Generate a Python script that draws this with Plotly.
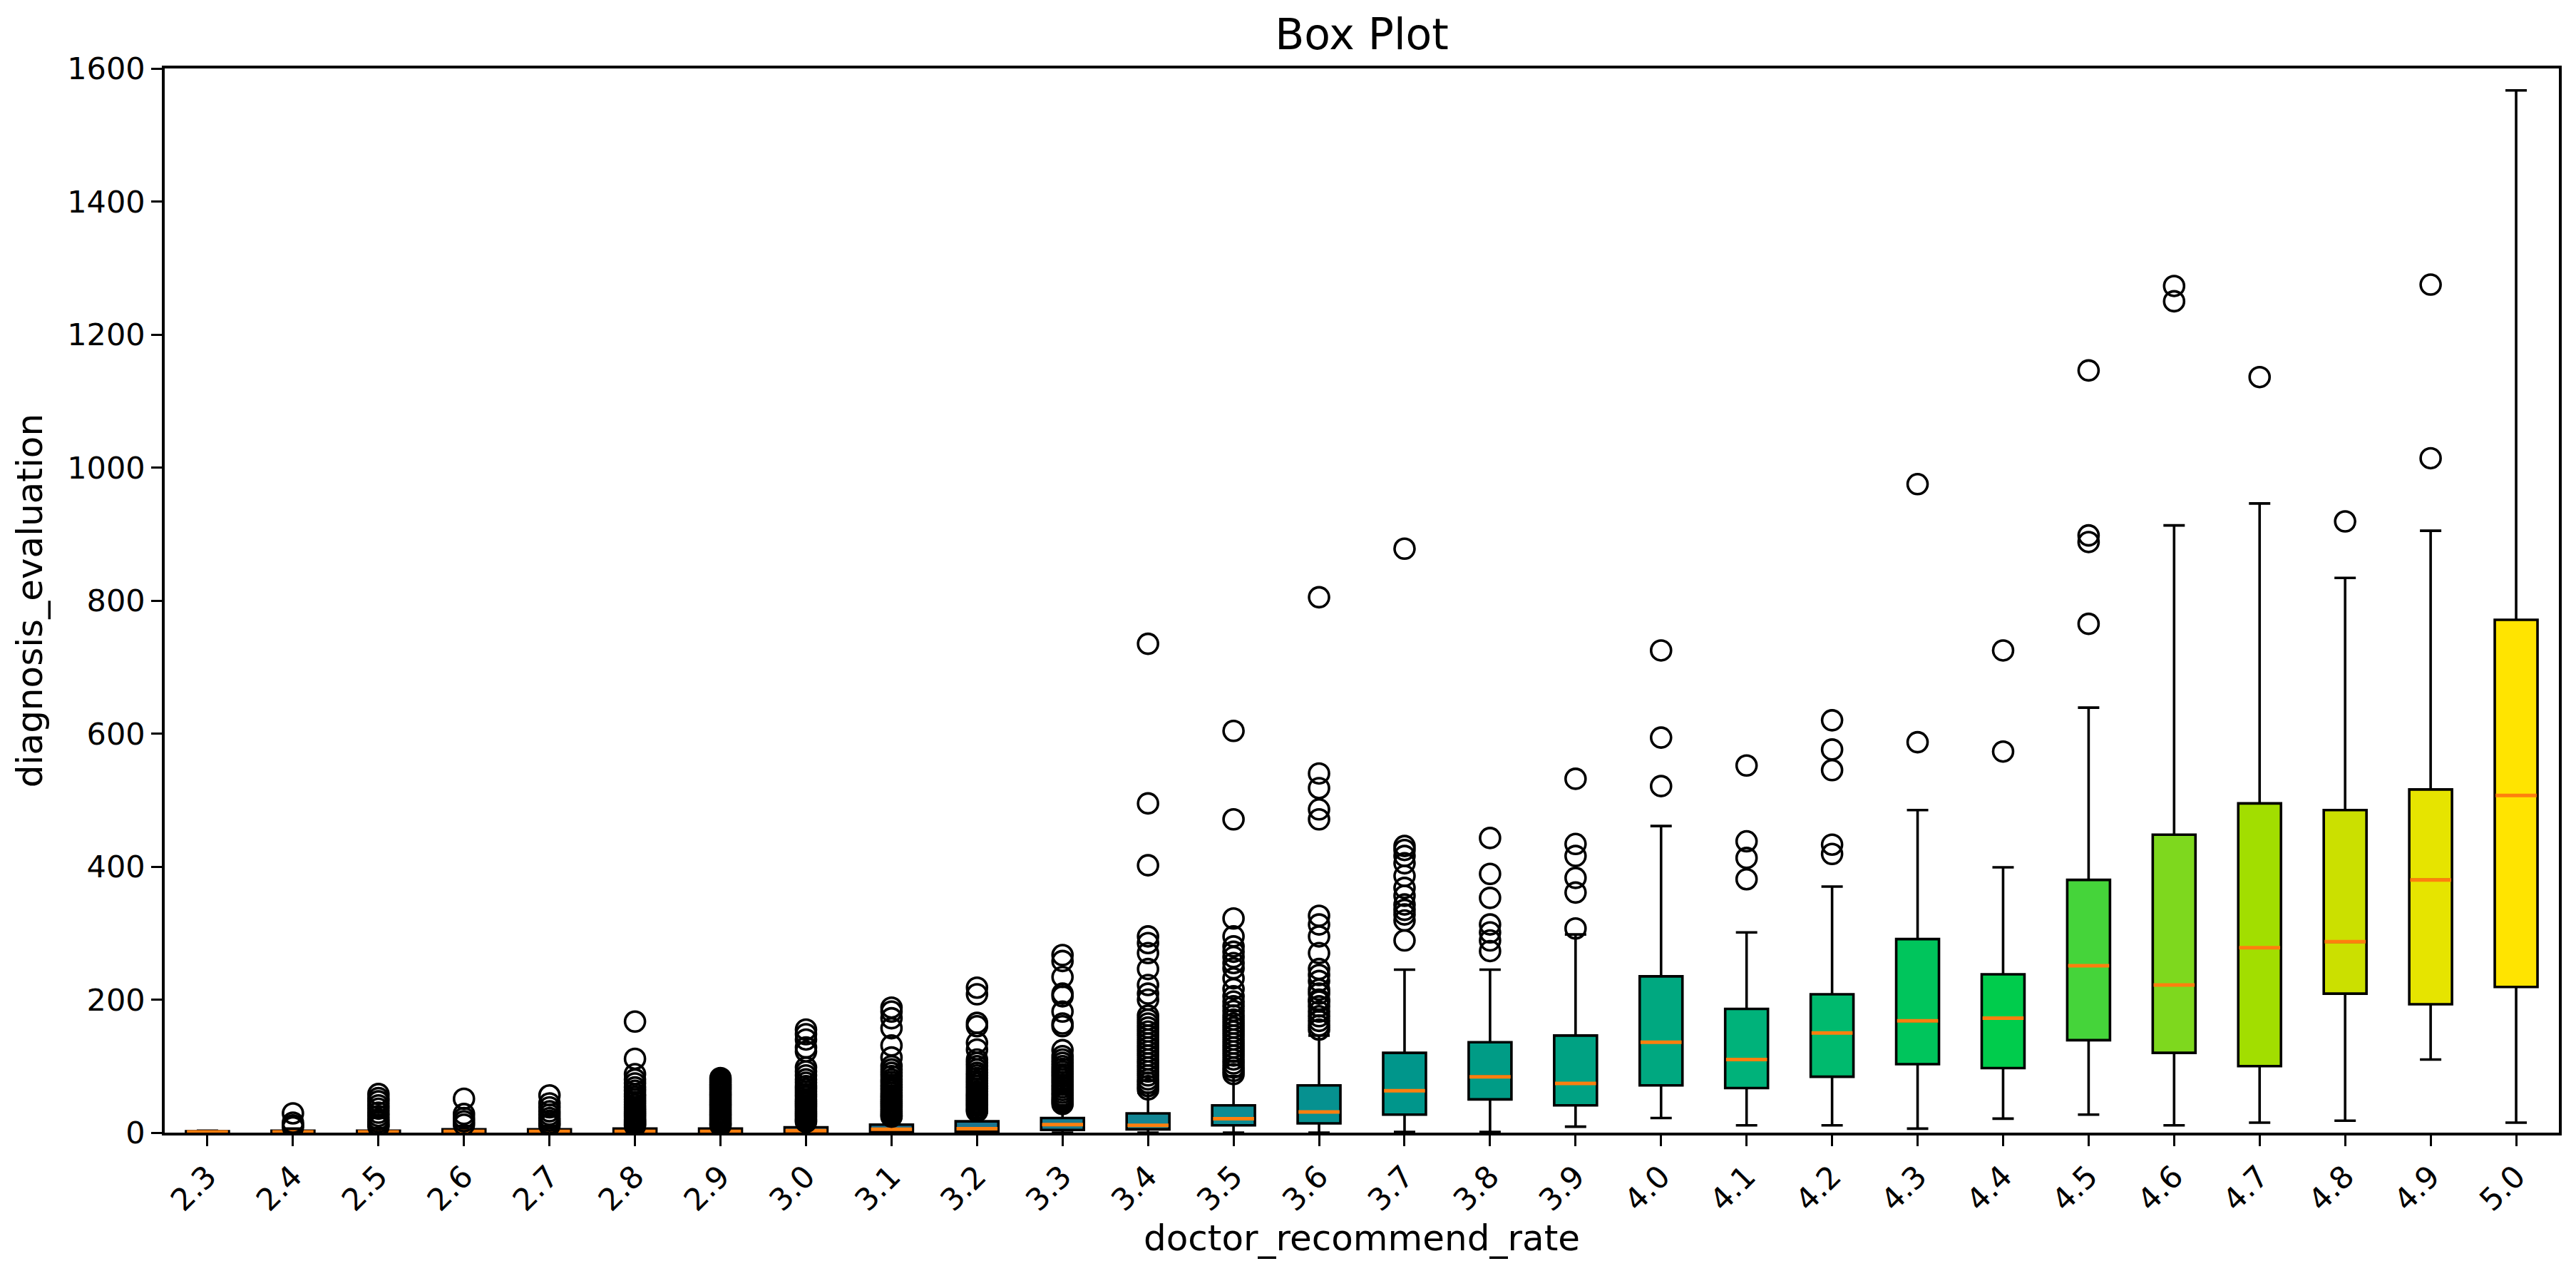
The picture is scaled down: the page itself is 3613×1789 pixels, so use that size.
import plotly.graph_objects as go

categories = ["2.3", "2.4", "2.5", "2.6", "2.7", "2.8", "2.9", "3.0", "3.1", "3.2",
              "3.3", "3.4", "3.5", "3.6", "3.7", "3.8", "3.9", "4.0", "4.1", "4.2",
              "4.3", "4.4", "4.5", "4.6", "4.7", "4.8", "4.9", "5.0"]

q1 =     [0, 0, 0, 0, 0, 0, 0, 0, 1, 2, 4, 5, 11, 14, 27, 50, 41, 71, 67, 84, 103, 97, 139, 120, 100, 209, 193, 219]
median = [1, 1, 1, 2, 2, 2, 2, 3, 5, 6, 12, 11, 21, 31, 63, 84, 74, 136, 110, 150, 168, 172, 251, 222, 278, 287, 380, 507]
q3 =     [2, 3, 3, 5, 5, 6, 6, 8, 12, 17, 22, 29, 41, 71, 120, 136, 146, 235, 186, 208, 291, 238, 380, 448, 495, 485, 516, 771]
lower =  [0, 0, 0, 0, 0, 0, 0, 0, 0, 0, 0, 0, 0, 0, 1, 1, 9, 22, 11, 11, 6, 21, 27, 11, 15, 18, 110, 15]
upper =  [3, 6, 7, 10, 10, 9, 10, 14, 22, 30, 40, 60, 85, 146, 245, 245, 298, 461, 301, 370, 485, 399, 639, 913, 946, 834, 905, 1567]

fliers = [
    [],
    [29, 15, 11, 8],
    [58, 52, 47, 41, 36, 30, 25, 20, 16, 12, 9],
    [51, 28, 22, 17, 12],
    [56, 44, 38, 32, 27, 22, 18, 14, 11],
    [167, 111, 88, 80, 74, 68, 63, 58, 54, 50, 46, 42, 38, 35, 32, 29, 26, 23, 20, 18, 16, 14, 12, 10],
    [82, 79, 76, 73, 70, 67, 64, 61, 58, 55, 52, 49, 46, 43, 40, 37, 34, 31, 28, 25, 22, 19, 16, 13, 11],
    [155, 148, 140, 128, 122, 98, 92, 86, 80, 75, 70, 66, 62, 58, 54, 50, 47, 44, 41, 38, 35, 32, 29, 26, 23, 20, 18, 16],
    [188, 182, 172, 157, 131, 113, 100, 95, 90, 85, 80, 76, 72, 68, 64, 60, 56, 53, 50, 47, 44, 41, 38, 35, 32, 29, 26, 24],
    [218, 208, 165, 160, 135, 125, 110, 105, 100, 95, 90, 86, 82, 78, 74, 70, 66, 62, 58, 55, 52, 49, 46, 43, 40, 37, 34, 32],
    [267, 258, 234, 209, 205, 182, 164, 160, 124, 115, 110, 105, 100, 96, 92, 88, 84, 80, 76, 72, 68, 64, 60, 56, 52, 49, 46, 43],
    [735, 495, 402, 295, 285, 270, 246, 222, 209, 200, 176, 170, 164, 158, 152, 146, 140, 134, 128, 122, 116, 110, 104, 98, 92, 86, 80, 75, 70, 65],
    [604, 471, 322, 295, 280, 272, 264, 255, 247, 232, 216, 205, 197, 190, 183, 176, 170, 164, 158, 152, 146, 140, 134, 128, 122, 116, 110, 104, 98, 93, 88],
    [805, 540, 518, 486, 471, 326, 313, 295, 270, 246, 237, 228, 215, 209, 200, 197, 190, 182, 175, 168, 161, 155],
    [878, 431, 425, 416, 405, 386, 368, 356, 343, 335, 328, 319, 289],
    [443, 389, 353, 313, 301, 289, 273],
    [532, 434, 416, 383, 361, 307],
    [725, 594, 521],
    [552, 438, 413, 381],
    [620, 576, 545, 433, 419],
    [975, 587],
    [725, 573],
    [1146, 898, 888, 765],
    [1273, 1250],
    [1136],
    [919],
    [1275, 1014],
    [],
]

box_colors = ["#3a2f86", "#37378a", "#33408c", "#2f488d", "#2b518e", "#27598e", "#23618e",
              "#20688e", "#1e6e8e", "#1b758f", "#177d91", "#128593", "#0c8c94", "#069190",
              "#00968b", "#009c86", "#00a283", "#00a880", "#00b27a", "#00ba6e", "#00c55c",
              "#00cc4c", "#45d43a", "#7ed81e", "#a2de00", "#cbe000", "#e6e400", "#ffe400"]

positions = list(range(1, len(categories) + 1))
box_width = 0.5

fig = go.Figure()

for i, pos in enumerate(positions):
    fig.add_trace(go.Box(
        x=[pos], q1=[q1[i]], median=[median[i]], q3=[q3[i]],
        lowerfence=[lower[i]], upperfence=[upper[i]],
        width=box_width, whiskerwidth=0.5,
        fillcolor=box_colors[i],
        line=dict(color="black", width=3.6),
        boxpoints=False, showlegend=False, hoverinfo="skip",
    ))

# Median lines in orange
mx, my = [], []
for i, pos in enumerate(positions):
    mx += [pos - box_width / 2 + 0.01, pos + box_width / 2 - 0.01, None]
    my += [median[i], median[i], None]
fig.add_trace(go.Scatter(x=mx, y=my, mode="lines",
                         line=dict(color="#ff7f0e", width=5),
                         showlegend=False, hoverinfo="skip"))

# Outliers
fx, fy = [], []
for i, pos in enumerate(positions):
    for v in fliers[i]:
        fx.append(pos)
        fy.append(v)
fig.add_trace(go.Scatter(x=fx, y=fy, mode="markers",
                         marker=dict(symbol="circle-open", size=28, color="black",
                                     line=dict(width=3.6, color="black")),
                         showlegend=False, hoverinfo="skip"))

font_family = "DejaVu Sans"
fig.update_layout(
    width=3613, height=1789,
    paper_bgcolor="white", plot_bgcolor="white",
    margin=dict(l=223, r=32, t=88, b=209),
    boxmode="overlay",
    font=dict(family=font_family, color="black", size=42),
    title=dict(text="Box Plot", x=0.5, xref="paper", y=1 - 40 / 1789, yref="container",
               xanchor="center", yanchor="middle",
               font=dict(size=60, family=font_family, color="black")),
    xaxis=dict(
        range=[0.5, len(categories) + 0.5],
        tickmode="array", tickvals=positions, ticktext=categories,
        tickangle=-45, ticks="outside", ticklen=15, tickwidth=3, tickcolor="black",
        showline=True, mirror=True, linecolor="black", linewidth=3.5,
        showgrid=False, zeroline=False,
        tickfont=dict(size=43, family=font_family, color="black"),
        title=dict(text="doctor_recommend_rate", standoff=12,
                   font=dict(size=50, family=font_family, color="black")),
    ),
    yaxis=dict(
        range=[0, 1600], dtick=200, tick0=0,
        ticks="outside", ticklen=15, tickwidth=3, tickcolor="black",
        showline=True, mirror=True, linecolor="black", linewidth=3.5,
        showgrid=False, zeroline=False,
        tickfont=dict(size=43, family=font_family, color="black"),
        title=dict(text="diagnosis_evaluation", standoff=20,
                   font=dict(size=50, family=font_family, color="black")),
    ),
)

fig.write_html("out.html")
